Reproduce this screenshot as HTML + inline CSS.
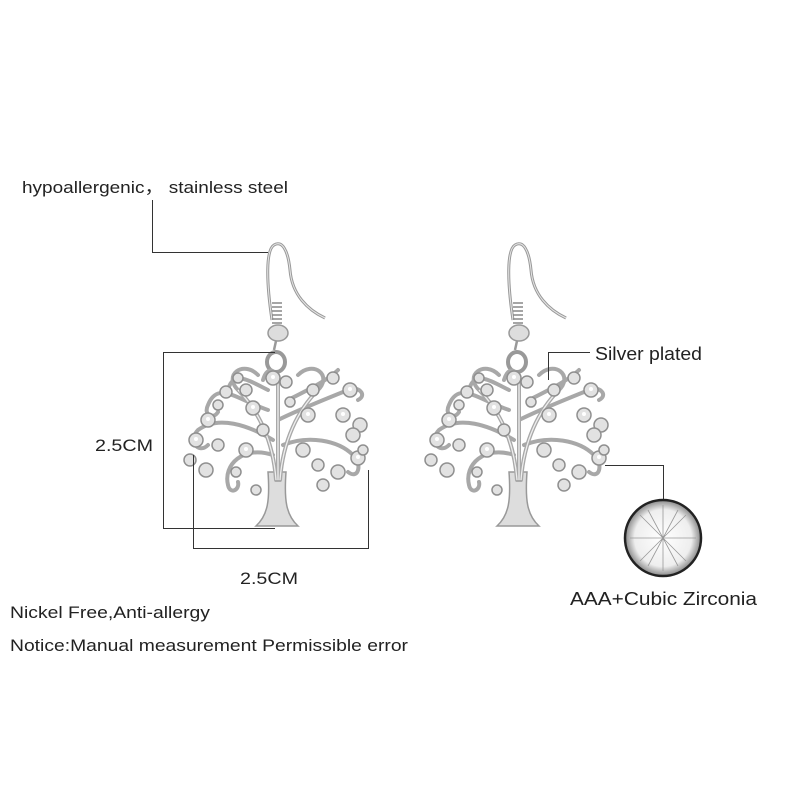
<!DOCTYPE html>
<html><head><meta charset="utf-8"><style>
html,body{margin:0;padding:0;background:#fff}
svg{display:block}
text{font-family:"Liberation Sans",sans-serif;fill:#222}
</style></head><body>
<svg width="800" height="800" viewBox="0 0 800 800" xmlns="http://www.w3.org/2000/svg">
<defs>
<g id="ear">
  <path d="M-6,80 C-12,40 -12,10 -4,5 C4,0 10,10 12,30 C14,55 30,70 47,78" fill="none" stroke="#999" stroke-width="3"/>
  <path d="M-6,80 C-12,40 -12,10 -4,5 C4,0 10,10 12,30 C14,55 30,70 47,78" fill="none" stroke="#e6e6e6" stroke-width="1"/>
  <g stroke="#888" stroke-width="1.5" fill="none">
    <path d="M-6,63 h10 M-6,67 h10 M-6,71 h10 M-6,75 h10 M-6,79 h10 M-6,83 h10"/>
  </g>
  <ellipse cx="0" cy="93" rx="10" ry="8" fill="#ddd" stroke="#999" stroke-width="1.5"/>
  <path d="M-2,101 L-4,110" stroke="#999" stroke-width="2.5"/>
  <ellipse cx="-2" cy="122" rx="9" ry="10" fill="none" stroke="#999" stroke-width="4"/>
  <path d="M-10,232 C-8,260 -10,275 -22,286 L20,286 C8,275 6,260 8,232 Z" fill="#ddd" stroke="#999" stroke-width="1.5"/>
  <g fill="none" stroke="#a8a8a8" stroke-width="4" stroke-linecap="round">
    <path d="M-2,240 C-5,200 -20,170 -40,150 C-55,135 -35,120 -20,135"/>
    <path d="M2,240 C5,200 20,170 40,150 C55,135 35,120 20,135"/>
    <path d="M0,240 L0,140 C-5,125 -12,130 -15,140"/>
    <path d="M0,180 C20,170 45,160 70,150 C80,145 90,155 80,160"/>
    <path d="M-5,200 C-30,185 -60,175 -80,190 C-90,200 -80,215 -70,205"/>
    <path d="M5,205 C30,195 60,200 75,215 C85,225 80,240 70,232"/>
    <path d="M-5,215 C-35,205 -55,225 -50,245 C-48,255 -38,250 -40,242"/>
    <path d="M-10,170 C-40,160 -60,140 -70,165 C-75,175 -65,180 -60,172"/>
    <path d="M10,160 C30,150 50,140 60,130"/>
    <path d="M-10,150 C-30,140 -45,130 -50,150"/>
  </g>
  <g fill="none" stroke="#eee" stroke-width="1.3">
    <path d="M-2,240 C-5,200 -20,170 -40,150"/>
    <path d="M2,240 C5,200 20,170 40,150"/>
    <path d="M0,240 L0,140"/>
  </g>
  <g fill="#e2e2e2" stroke="#8f8f8f" stroke-width="1.5">
    <circle cx="-5" cy="138" r="7"/><circle cx="8" cy="142" r="6"/>
    <circle cx="-32" cy="150" r="6"/><circle cx="-25" cy="168" r="7"/>
    <circle cx="35" cy="150" r="6"/><circle cx="55" cy="138" r="6"/>
    <circle cx="72" cy="150" r="7"/><circle cx="65" cy="175" r="7"/>
    <circle cx="82" cy="185" r="7"/><circle cx="75" cy="195" r="7"/>
    <circle cx="80" cy="218" r="7"/><circle cx="60" cy="232" r="7"/>
    <circle cx="45" cy="245" r="6"/><circle cx="25" cy="210" r="7"/>
    <circle cx="30" cy="175" r="7"/><circle cx="12" cy="162" r="5"/>
    <circle cx="-52" cy="152" r="6"/><circle cx="-60" cy="165" r="5"/>
    <circle cx="-70" cy="180" r="7"/><circle cx="-82" cy="200" r="7"/>
    <circle cx="-88" cy="220" r="6"/><circle cx="-72" cy="230" r="7"/>
    <circle cx="-60" cy="205" r="6"/><circle cx="-32" cy="210" r="7"/>
    <circle cx="-15" cy="190" r="6"/><circle cx="-22" cy="250" r="5"/>
    <circle cx="-42" cy="232" r="5"/><circle cx="-40" cy="138" r="5"/>
    <circle cx="85" cy="210" r="5"/><circle cx="40" cy="225" r="6"/>
  </g>
  <g fill="#fff">
    <circle cx="-5" cy="137" r="2"/><circle cx="72" cy="149" r="2"/><circle cx="-82" cy="199" r="2"/>
    <circle cx="80" cy="217" r="2"/><circle cx="30" cy="174" r="2"/><circle cx="-32" cy="209" r="2"/>
    <circle cx="65" cy="174" r="2"/><circle cx="-70" cy="179" r="2"/><circle cx="-25" cy="167" r="2"/>
  </g>
</g>
<radialGradient id="gem" cx="50%" cy="50%" r="50%">
  <stop offset="0" stop-color="#fff"/><stop offset="0.75" stop-color="#eee"/><stop offset="1" stop-color="#888"/>
</radialGradient>
</defs>

<use href="#ear" x="278" y="240"/>
<use href="#ear" x="519" y="240"/>

<g stroke="#333" stroke-width="1" fill="none">
  <path d="M152.5,200 V252.5 H268"/>
  <path d="M275,352.5 H163.5 V528.5 H275"/>
  <path d="M193.5,455 V548.5 H368.5 V470"/>
  <path d="M590,352.5 H548.5 V380"/>
  <path d="M605,465.5 H663.5 V500"/>
</g>

<circle cx="663" cy="538" r="38" fill="url(#gem)"/>
<g stroke="#999" stroke-width="0.8">
  <path d="M630,538 L696,538 M663,505 L663,571 M640,515 L686,561 M686,515 L640,561 M648,510 L678,566 M678,510 L648,566"/>
</g>
<circle cx="663" cy="538" r="38" fill="none" stroke="#222" stroke-width="2.5"/>

<text x="22" y="193" font-size="17" textLength="266" lengthAdjust="spacingAndGlyphs">hypoallergenic， stainless steel</text>
<text x="95" y="451" font-size="17" textLength="58" lengthAdjust="spacingAndGlyphs">2.5CM</text>
<text x="240" y="584" font-size="17" textLength="58" lengthAdjust="spacingAndGlyphs">2.5CM</text>
<text x="595" y="360" font-size="18" textLength="107" lengthAdjust="spacingAndGlyphs">Silver plated</text>
<text x="570" y="605" font-size="18" textLength="187" lengthAdjust="spacingAndGlyphs">AAA+Cubic Zirconia</text>
<text x="10" y="618" font-size="17" textLength="200" lengthAdjust="spacingAndGlyphs">Nickel Free,Anti-allergy</text>
<text x="10" y="651" font-size="17" textLength="398" lengthAdjust="spacingAndGlyphs">Notice:Manual measurement Permissible error</text>
</svg>
</body></html>
